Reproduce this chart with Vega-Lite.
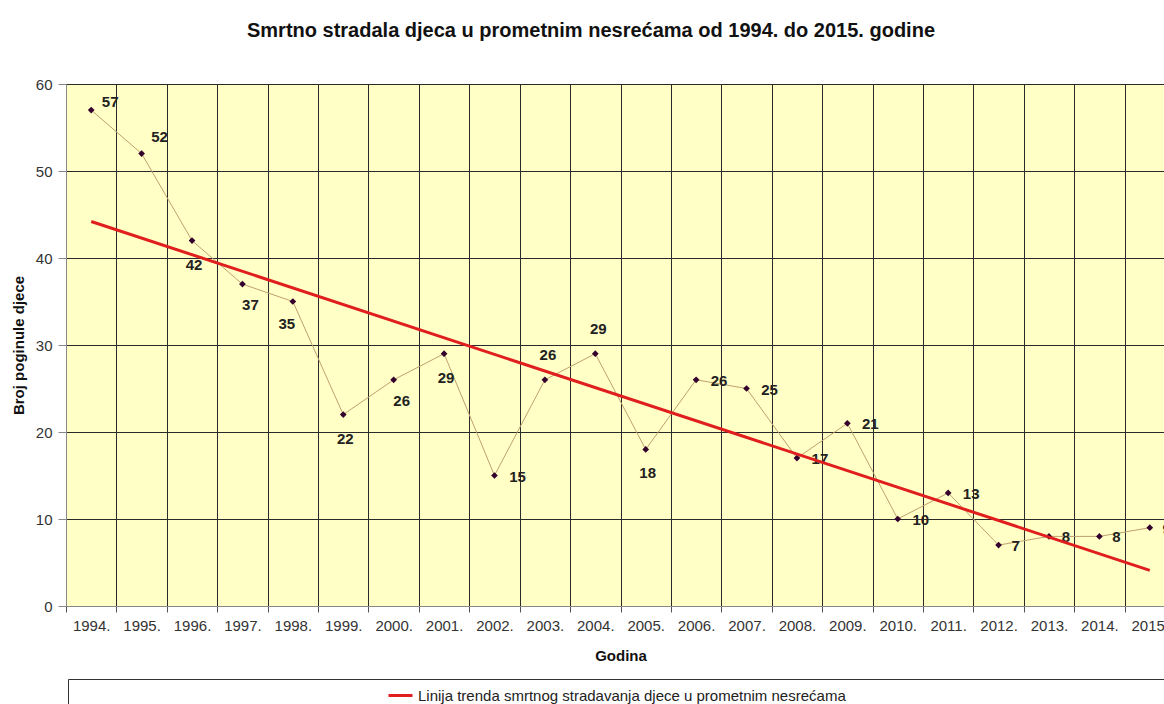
{
  "$schema": "https://vega.github.io/schema/vega-lite/v6.json",
  "autosize": {"type": "none"},
  "width": 1098,
  "height": 522,
  "padding": {"left": 66, "top": 84, "right": 0, "bottom": 98},
  "background": "white",
  "config": {
    "font": "Liberation Sans",
    "view": {"fill": "#FFFFC6", "stroke": null}
  },
  "title": {
    "text": "Smrtno stradala djeca u prometnim nesrećama od 1994. do 2015. godine",
    "fontSize": 20,
    "fontWeight": "bold",
    "font": "Liberation Sans",
    "color": "#111",
    "anchor": "middle",
    "dx": -24,
    "offset": 36
  },
  "datasets": {
    "main": [
      {"year": "1994.", "value": 57},
      {"year": "1995.", "value": 52},
      {"year": "1996.", "value": 42},
      {"year": "1997.", "value": 37},
      {"year": "1998.", "value": 35},
      {"year": "1999.", "value": 22},
      {"year": "2000.", "value": 26},
      {"year": "2001.", "value": 29},
      {"year": "2002.", "value": 15},
      {"year": "2003.", "value": 26},
      {"year": "2004.", "value": 29},
      {"year": "2005.", "value": 18},
      {"year": "2006.", "value": 26},
      {"year": "2007.", "value": 25},
      {"year": "2008.", "value": 17},
      {"year": "2009.", "value": 21},
      {"year": "2010.", "value": 10},
      {"year": "2011.", "value": 13},
      {"year": "2012.", "value": 7},
      {"year": "2013.", "value": 8},
      {"year": "2014.", "value": 8},
      {"year": "2015.", "value": 9}
    ],
    "trend": [
      {"year": "1994.", "trend": 44.2, "series": "Linija trenda smrtnog stradavanja djece u prometnim nesrećama"},
      {"year": "2015.", "trend": 4.1, "series": "Linija trenda smrtnog stradavanja djece u prometnim nesrećama"}
    ]
  },
  "encoding": {
    "x": {
      "field": "year",
      "type": "ordinal",
      "sort": null,
      "scale": {"type": "band", "paddingInner": 0, "paddingOuter": 0, "range": [0, 1109]},
      "axis": {
        "title": "Godina",
        "titleFontSize": 15,
        "titleFontWeight": "bold",
        "titleColor": "#111",
        "titlePadding": 15,
        "labelAngle": 0,
        "labelFontSize": 15,
        "labelColor": "#333",
        "labelPadding": 6,
        "tickBand": "extent",
        "tickSize": 6,
        "tickColor": "#555",
        "domainColor": "#888",
        "grid": true,
        "gridColor": "#2A2A2A",
        "gridWidth": 1
      }
    }
  },
  "layer": [
    {
      "data": {"name": "main"},
      "mark": {"type": "line", "color": "#BFA070", "strokeWidth": 1},
      "encoding": {
        "y": {
          "field": "value",
          "type": "quantitative",
          "scale": {"domain": [0, 60], "nice": false},
          "axis": {
            "title": "Broj poginule djece",
            "titleFontSize": 15,
            "titleFontWeight": "bold",
            "titleColor": "#111",
            "titlePadding": 9,
            "values": [0, 10, 20, 30, 40, 50, 60],
            "labelFontSize": 15,
            "labelColor": "#333",
            "labelPadding": 6,
            "tickSize": 8,
            "tickColor": "#888",
            "domainColor": "#888",
            "grid": true,
            "gridColor": "#2A2A2A",
            "gridWidth": 1
          }
        }
      }
    },
    {
      "data": {"name": "main"},
      "mark": {"type": "point", "shape": "diamond", "filled": true, "color": "#33002E", "size": 45, "opacity": 1},
      "encoding": {"y": {"field": "value", "type": "quantitative"}}
    },
    {
      "data": {"name": "main"},
      "transform": [{"filter": {"field": "year", "oneOf": ["1994."]}}],
      "mark": {"type": "text", "fontWeight": "bold", "fontSize": 15, "color": "#222", "dx": 19, "dy": -8},
      "encoding": {"y": {"field": "value", "type": "quantitative"}, "text": {"field": "value"}}
    },
    {
      "data": {"name": "main"},
      "transform": [{"filter": {"field": "year", "oneOf": ["1995."]}}],
      "mark": {"type": "text", "fontWeight": "bold", "fontSize": 15, "color": "#222", "dx": 18, "dy": -17},
      "encoding": {"y": {"field": "value", "type": "quantitative"}, "text": {"field": "value"}}
    },
    {
      "data": {"name": "main"},
      "transform": [{"filter": {"field": "year", "oneOf": ["1996.", "1999.", "2001.", "2005."]}}],
      "mark": {"type": "text", "fontWeight": "bold", "fontSize": 15, "color": "#222", "dx": 2, "dy": 24},
      "encoding": {"y": {"field": "value", "type": "quantitative"}, "text": {"field": "value"}}
    },
    {
      "data": {"name": "main"},
      "transform": [{"filter": {"field": "year", "oneOf": ["1997.", "2000."]}}],
      "mark": {"type": "text", "fontWeight": "bold", "fontSize": 15, "color": "#222", "dx": 8, "dy": 21},
      "encoding": {"y": {"field": "value", "type": "quantitative"}, "text": {"field": "value"}}
    },
    {
      "data": {"name": "main"},
      "transform": [{"filter": {"field": "year", "oneOf": ["1998."]}}],
      "mark": {"type": "text", "fontWeight": "bold", "fontSize": 15, "color": "#222", "dx": -6, "dy": 22},
      "encoding": {"y": {"field": "value", "type": "quantitative"}, "text": {"field": "value"}}
    },
    {
      "data": {"name": "main"},
      "transform": [{"filter": {"field": "year", "oneOf": ["2003.", "2004."]}}],
      "mark": {"type": "text", "fontWeight": "bold", "fontSize": 15, "color": "#222", "dx": 3, "dy": -25},
      "encoding": {"y": {"field": "value", "type": "quantitative"}, "text": {"field": "value"}}
    },
    {
      "data": {"name": "main"},
      "transform": [{"filter": {"field": "year", "oneOf": ["2002.", "2006.", "2007.", "2008.", "2009.", "2010.", "2011."]}}],
      "mark": {"type": "text", "fontWeight": "bold", "fontSize": 15, "color": "#222", "dx": 23, "dy": 1},
      "encoding": {"y": {"field": "value", "type": "quantitative"}, "text": {"field": "value"}}
    },
    {
      "data": {"name": "main"},
      "transform": [{"filter": {"field": "year", "oneOf": ["2012.", "2013.", "2014.", "2015."]}}],
      "mark": {"type": "text", "fontWeight": "bold", "fontSize": 15, "color": "#222", "dx": 17, "dy": 1},
      "encoding": {"y": {"field": "value", "type": "quantitative"}, "text": {"field": "value"}}
    },
    {
      "data": {"name": "trend"},
      "mark": {"type": "line", "strokeWidth": 3},
      "encoding": {
        "y": {"field": "trend", "type": "quantitative"},
        "color": {
          "field": "series",
          "type": "nominal",
          "scale": {"range": ["#E01E1E"]},
          "legend": {
            "orient": "none",
            "legendX": 2,
            "legendY": 595,
            "title": null,
            "symbolType": "stroke",
            "symbolStrokeWidth": 3,
            "symbolSize": 576,
            "symbolOffset": 316,
            "labelFontSize": 15,
            "labelColor": "#222",
            "labelLimit": 5000,
            "labelOffset": 4,
            "labelExpr": "pad(datum.label, 260, '\u2800')",
            "padding": 3,
            "strokeColor": "#333",
            "fillColor": "white"
          }
        }
      }
    }
  ]
}
